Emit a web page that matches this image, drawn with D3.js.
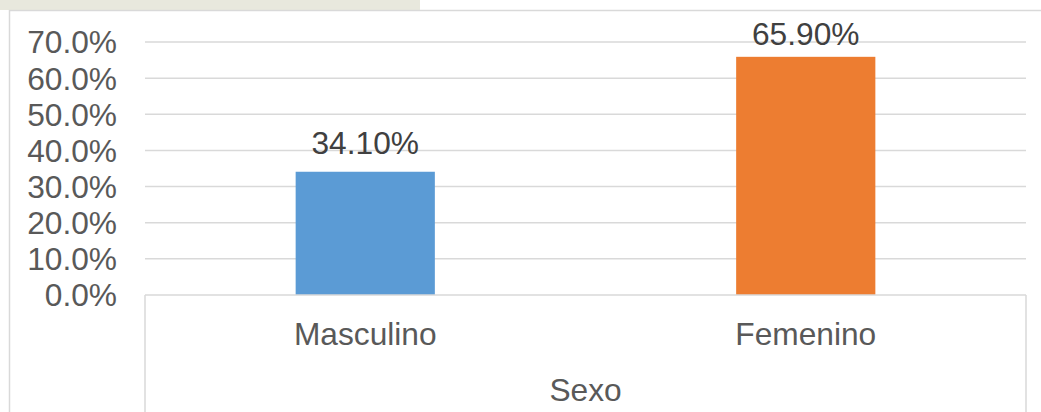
<!DOCTYPE html>
<html>
<head>
<meta charset="utf-8">
<script src="https://cdn.jsdelivr.net/npm/d3@7"></script>
<style>
  html, body { margin: 0; padding: 0; background: #ffffff; }
  svg { display: block; }
</style>
</head>
<body>
<svg id="chart" width="1041" height="412"></svg>
<script>
const categories = ["Masculino", "Femenino"];
const values = [0.341, 0.659];
const valueLabels = ["34.10%", "65.90%"];
const barColors = ["#5b9bd5", "#ed7d31"];
const tickValues = [0, 0.1, 0.2, 0.3, 0.4, 0.5, 0.6, 0.7];
const axisTitle = "Sexo";

const svg = d3.select("#chart");
const W = 1041, H = 412;
const left = 145, right = 1026, y0 = 295, yTop = 42;
const font = "'Liberation Sans', Arial, sans-serif";
const fs = 31.7;

// faint watermark-like strip above the chart frame
svg.append("rect").attr("x", 0).attr("y", 0).attr("width", 420).attr("height", 10)
  .attr("fill", "#e8e8dd");

// outer chart frame
svg.append("rect")
  .attr("x", 9.5).attr("y", 10.5).attr("width", W + 20).attr("height", H + 20)
  .attr("fill", "#ffffff").attr("stroke", "#d9d9d9").attr("stroke-width", 1.5);

const y = d3.scaleLinear().domain([0, 0.7]).range([y0, yTop]);
const x = d3.scaleBand().domain(categories).range([left, right])
  .paddingInner(0.684).paddingOuter(0.342);

// gridlines
svg.append("g").selectAll("line").data(tickValues.filter(t => t > 0)).join("line")
  .attr("x1", left).attr("x2", right)
  .attr("y1", d => y(d)).attr("y2", d => y(d))
  .attr("stroke", "#d9d9d9").attr("stroke-width", 1.5);

// y axis tick labels
const fmt = d3.format(".1%");
svg.append("g").selectAll("text").data(tickValues).join("text")
  .attr("x", 117).attr("y", d => y(d)).attr("dy", "0.36em")
  .attr("text-anchor", "end")
  .attr("font-family", font).attr("font-size", fs).attr("fill", "#595959")
  .text(d => fmt(d));

// bars
svg.append("g").selectAll("rect").data(categories).join("rect")
  .attr("x", d => x(d)).attr("width", x.bandwidth())
  .attr("y", (d, i) => y(values[i])).attr("height", (d, i) => y0 - y(values[i]))
  .attr("fill", (d, i) => barColors[i]);

// data labels
svg.append("g").selectAll("text").data(categories).join("text")
  .attr("x", d => x(d) + x.bandwidth() / 2)
  .attr("y", (d, i) => Math.max(45, y(values[i]) - 18))
  .attr("text-anchor", "middle")
  .attr("font-family", font).attr("font-size", fs).attr("fill", "#404040")
  .text((d, i) => valueLabels[i]);

// category axis box
const axisG = svg.append("g").attr("stroke", "#d9d9d9").attr("stroke-width", 1.5);
axisG.append("line").attr("x1", left).attr("x2", right).attr("y1", y0).attr("y2", y0);
axisG.append("line").attr("x1", left).attr("x2", left).attr("y1", y0).attr("y2", H);
axisG.append("line").attr("x1", right).attr("x2", right).attr("y1", y0).attr("y2", H);

// category labels
svg.append("g").selectAll("text").data(categories).join("text")
  .attr("x", d => x(d) + x.bandwidth() / 2).attr("y", 345)
  .attr("text-anchor", "middle")
  .attr("font-family", font).attr("font-size", fs).attr("fill", "#595959")
  .text(d => d);

// axis title
svg.append("text")
  .attr("x", (left + right) / 2).attr("y", 401)
  .attr("text-anchor", "middle")
  .attr("font-family", font).attr("font-size", fs).attr("fill", "#595959")
  .text(axisTitle);
</script>
</body>
</html>
